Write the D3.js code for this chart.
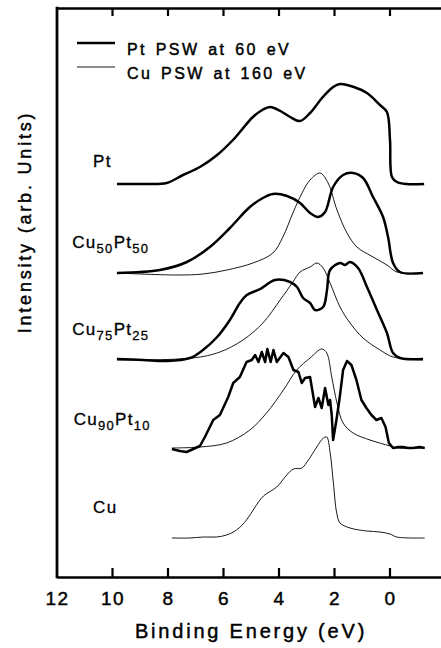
<!DOCTYPE html>
<html>
<head>
  <meta charset="UTF-8">
  <title>PSW spectra</title>
  <script src="https://d3js.org/d3.v7.min.js"></script>
  <style>
    body { margin: 0; background: #fff; }
    svg { display: block; }
    text { font-family: "Liberation Sans", Arial, sans-serif; fill: #000; stroke: #000; stroke-width: 0.45px; }
  </style>
</head>
<body>
  <div id="chart"></div>
  <script>
    // binding energy (eV) , intensity above baseline (arb.)
    const ptPt = [[9.84,0],[8.9,0],[8.05,1],[7.46,9],[6.85,17],[6.23,29],[5.66,44],[4.94,67],[4.6,74],[4.32,77],[3.95,73],[3.6,67],[3.24,63],[2.88,71],[2.45,86],[2.05,97],[1.8,100],[1.3,97],[0.83,91],[0.36,79],[0.11,72],[0.0,44],[-0.07,7],[-0.25,2],[-0.6,0],[-1.23,0]];

    const cu50Pt = [[9.84,0],[8.29,3],[7.32,11],[6.49,26],[5.77,45],[5.05,66],[4.58,75],[4.22,79],[3.71,77],[3.24,70],[2.88,60],[2.59,56],[2.34,61],[2.05,86],[1.69,98],[1.33,100],[0.97,95],[0.61,76],[0.25,56],[0.07,36],[-0.11,10],[-0.36,1],[-1.19,0]];
    const cu50Cu = [[9.84,0],[7.68,-2],[6.74,-1],[5.88,3],[4.94,10],[4.22,20],[3.86,36],[3.5,60],[3.17,80],[2.88,93],[2.52,100],[2.23,90],[1.91,63],[1.55,40],[1.19,26],[0.61,16],[0.11,8],[-0.25,1],[-1.19,0]];

    const cu75Pt = [[9.84,1],[8.9,0],[8.04,-1],[7.21,2],[6.74,10],[6.23,23],[5.77,40],[5.41,57],[5.16,65],[4.68,71],[4.14,80],[3.6,78],[3.35,73],[3.13,62],[2.88,57],[2.7,50],[2.41,53],[2.27,70],[2.16,90],[1.8,97],[1.62,95],[1.44,98],[1.15,92],[0.83,73],[0.47,50],[0.11,27],[-0.11,7],[-0.36,2],[-1.19,1]];
    const cu75Cu = [[9.84,0],[7.1,2],[6.13,8],[5.3,20],[4.58,37],[3.96,60],[3.5,78],[3.24,88],[2.88,93],[2.63,97],[2.41,92],[2.16,77],[1.8,53],[1.44,37],[0.97,22],[0.36,10],[-0.11,3],[-1.19,0]];

    const cu90Pt = [[7.86,-1],[7.57,-3],[7.33,-4],[7.09,-1],[6.85,2],[6.67,11],[6.37,28],[6.13,33],[5.83,51],[5.65,65],[5.41,71],[5.17,86],[4.98,88],[4.86,93],[4.74,86],[4.62,96],[4.5,86],[4.42,99],[4.3,86],[4.2,98],[4.08,86],[3.84,95],[3.66,91],[3.48,78],[3.3,76],[3.18,65],[3.06,70],[2.88,71],[2.79,56],[2.7,41],[2.58,50],[2.46,40],[2.34,60],[2.22,43],[2.16,48],[2.1,33],[2.05,8],[1.93,28],[1.81,51],[1.69,78],[1.55,87],[1.39,83],[1.21,68],[1.03,48],[0.85,40],[0.67,33],[0.49,28],[0.31,30],[0.16,21],[0.04,5],[-0.11,0],[-0.3,1],[-0.47,1],[-0.65,0],[-0.83,0],[-1.07,1],[-1.25,0]];
    const cu90Cu = [[7.86,0],[6.85,1],[5.89,5],[5.05,18],[4.45,35],[3.84,58],[3.36,78],[2.88,90],[2.46,99],[2.28,95],[2.1,71],[1.91,45],[1.69,25],[1.33,15],[0.72,8],[0.0,2],[-0.23,0],[-1.25,0]];

    const cuCu = [[7.86,0],[7.21,0],[6.73,1],[6.25,1],[5.89,3],[5.53,8],[5.17,18],[4.86,31],[4.56,42],[4.08,51],[3.72,63],[3.48,69],[3.18,70],[2.94,78],[2.64,91],[2.4,100],[2.28,101],[2.16,86],[2.04,55],[1.92,25],[1.8,15],[1.44,10],[0.84,7],[0.36,6],[0.0,4],[-0.24,1],[-1.25,0]];

    // stacking offsets of each spectrum
    const offsets = { pt: 393, cu50: 304, cu75: 217, cu90: 129, cu: 39 };

    const xTicks = [12, 10, 8, 6, 4, 2, 0];
    const legendLabels = ["Pt PSW at 60 eV", "Cu PSW at 160 eV"];

    const W = 441, H = 648;
    const x = d3.scaleLinear().domain([12, -2]).range([57, 445.5]);
    const y = d3.scaleLinear().domain([0, 569]).range([577, 8]);

    const svg = d3.select("#chart").append("svg")
      .attr("width", W).attr("height", H);

    const smooth = d3.line()
      .x(d => x(d[0]))
      .y(d => y(d[1]))
      .curve(d3.curveCatmullRom.alpha(0.5));
    const rough = d3.line()
      .x(d => x(d[0]))
      .y(d => y(d[1]));

    const spectra = [
      { data: cu50Cu, off: offsets.cu50, thick: false },
      { data: cu75Cu, off: offsets.cu75, thick: false },
      { data: cu90Cu, off: offsets.cu90, thick: false },
      { data: cuCu, off: offsets.cu, thick: false },
      { data: ptPt, off: offsets.pt, thick: true },
      { data: cu50Pt, off: offsets.cu50, thick: true },
      { data: cu75Pt, off: offsets.cu75, thick: true },
      { data: cu90Pt, off: offsets.cu90, thick: true, noisy: true }
    ];

    svg.selectAll(".spec")
      .data(spectra)
      .enter()
      .append("path")
      .attr("class", "spec")
      .attr("fill", "none")
      .attr("stroke", "#000")
      .attr("stroke-linejoin", "round")
      .attr("stroke-width", d => d.thick ? 2.5 : 0.9)
      .attr("d", d => {
        const pts = d.data.map(p => [p[0], p[1] + d.off]);
        return d.noisy ? rough(pts) : smooth(pts);
      });

    // frame lines (bottom, top, left)
    svg.append("g")
      .attr("transform", `translate(0,${y(0)})`)
      .call(d3.axisBottom(x).tickValues(xTicks).tickSize(0).tickPadding(15).tickSizeOuter(0))
      .call(g => g.select(".domain").attr("stroke", "#000").attr("stroke-width", 2.4))
      .selectAll(".tick text")
      .style("font-size", "19px")
      .style("letter-spacing", "1.5px");

    svg.append("g")
      .attr("transform", `translate(0,${y(569)})`)
      .call(d3.axisTop(x).tickValues(xTicks).tickSize(0).tickFormat("").tickSizeOuter(0))
      .call(g => g.select(".domain").attr("stroke", "#000").attr("stroke-width", 2.4));

    svg.append("line")
      .attr("x1", x(12)).attr("x2", x(12))
      .attr("y1", y(0) + 1.2).attr("y2", y(569) - 1.2)
      .attr("stroke", "#000").attr("stroke-width", 2.8);

    // inward tick marks, drawn as small filled bars
    const tickVals = xTicks.filter(v => v < 12);
    svg.append("g").attr("class", "ticks-bottom")
      .selectAll("rect")
      .data(tickVals)
      .enter().append("rect")
      .attr("x", d => x(d) - 1.1)
      .attr("y", y(0) - 9)
      .attr("width", 2.2)
      .attr("height", 9)
      .attr("fill", "#000");
    svg.append("g").attr("class", "ticks-top")
      .selectAll("rect")
      .data(tickVals)
      .enter().append("rect")
      .attr("x", d => x(d) - 1.1)
      .attr("y", y(569))
      .attr("width", 2.2)
      .attr("height", 8)
      .attr("fill", "#000");

    // axis titles
    svg.append("text")
      .attr("x", 251).attr("y", 638)
      .attr("text-anchor", "middle")
      .style("font-size", "20px")
      .style("letter-spacing", "2.8px")
      .text("Binding Energy (eV)");

    svg.append("text")
      .attr("transform", "translate(31,222) rotate(-90)")
      .attr("text-anchor", "middle")
      .style("font-size", "18px")
      .style("letter-spacing", "2.8px")
      .text("Intensity (arb. Units)");

    // legend
    const legend = svg.append("g");
    legendLabels.forEach((lab, i) => {
      legend.append("line")
        .attr("x1", 77).attr("x2", 115)
        .attr("y1", 43 + i * 24).attr("y2", 43 + i * 24)
        .attr("stroke", "#000")
        .attr("stroke-width", i === 0 ? 2.5 : 0.9);
      legend.append("text")
        .attr("x", 127).attr("y", 55 + i * 24)
        .style("font-size", "16px")
        .style("letter-spacing", "2.4px")
        .style("word-spacing", "2px")
        .text(lab);
    });

    // spectrum labels
    const sampleLabels = [
      { parts: [["Pt", false]], ev: 10.7, off: offsets.pt, dy: 17 },
      { parts: [["Cu", false], ["50", true], ["Pt", false], ["50", true]], ev: 11.45, off: offsets.cu50, dy: 25 },
      { parts: [["Cu", false], ["75", true], ["Pt", false], ["25", true]], ev: 11.45, off: offsets.cu75, dy: 25 },
      { parts: [["Cu", false], ["90", true], ["Pt", false], ["10", true]], ev: 11.4, off: offsets.cu90, dy: 23 },
      { parts: [["Cu", false]], ev: 10.7, off: offsets.cu, dy: 25 }
    ];
    sampleLabels.forEach(l => {
      const t = svg.append("text")
        .attr("x", x(l.ev)).attr("y", y(l.off + l.dy))
        .style("font-size", "17px")
        .style("stroke-width", "0.3px")
        .style("letter-spacing", "1.3px");
      l.parts.forEach(([s, sub], k) => {
        t.append("tspan")
          .attr("dy", sub ? 5 : (k > 0 ? -5 : 0))
          .style("font-size", sub ? "13px" : "17px")
          .text(s);
      });
    });
  </script>
</body>
</html>
